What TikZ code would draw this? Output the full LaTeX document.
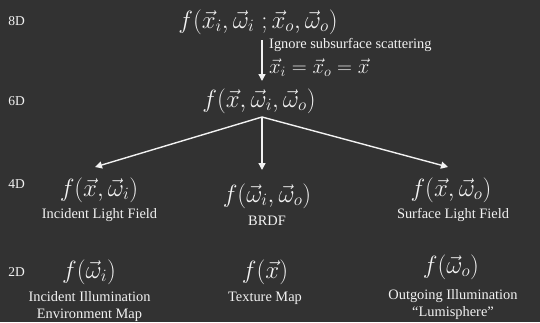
\documentclass[tikz,border=0pt]{standalone}
\usepackage{fontspec}
\setmainfont{Liberation Serif}
\usetikzlibrary{arrows.meta}
\definecolor{bg}{HTML}{323232}
\definecolor{fg}{HTML}{F2F2F2}
\begin{document}
\begin{tikzpicture}[x=1pt,y=-1pt,
  lbl/.style={text=fg,font=\fontsize{13.5}{16}\selectfont,inner sep=0pt},
  fm/.style={text=fg,font=\fontsize{24}{28}\selectfont,inner sep=0pt},
  capt/.style={text=fg,font=\fontsize{14.4}{17}\selectfont,inner sep=0pt,align=center},
  arr/.style={draw=fg,line width=1.4pt,-{Triangle[width=7pt,length=7pt]}}]
\fill[bg] (0,0) rectangle (540,322);
\useasboundingbox (0,0) rectangle (540,322);
% dimension labels
\node[lbl] (d8) at (16.5,21) {8D};
\node[lbl] (d6) at (16.5,101) {6D};
\node[lbl] (d4) at (16.5,184) {4D};
\node[lbl] (d2) at (16.5,272) {2D};
% formulas
\node[fm] (f8) at (258,22) {$f(\vec{x}_i,\vec{\omega}_i\;;\vec{x}_o,\vec{\omega}_o)$};
\node[fm] (f6) at (259,101) {$f(\vec{x},\vec{\omega}_i,\vec{\omega}_o)$};
\node[fm] (f4a) at (99,190) {$f(\vec{x},\vec{\omega}_i)$};
\node[fm] (f4b) at (267,196) {$f(\vec{\omega}_i,\vec{\omega}_o)$};
\node[fm] (f4c) at (451,190) {$f(\vec{x},\vec{\omega}_o)$};
\node[fm] (f2a) at (89,272) {$f(\vec{\omega}_i)$};
\node[fm] (f2b) at (265,272) {$f(\vec{x})$};
\node[fm] (f2c) at (451,267) {$f(\vec{\omega}_o)$};
% captions
\node[capt] (c4a) at (99.5,215) {Incident Light Field};
\node[capt] (c4b) at (267,221) {BRDF};
\node[capt] (c4c) at (453,215) {Surface Light Field};
\node[capt] (c2a) at (89.5,306.5) {Incident Illumination\\Environment Map};
\node[capt] (c2b) at (265,298) {Texture Map};
\node[capt] (c2c) at (453,304.5) {Outgoing Illumination\\``Lumisphere''};
% top arrow
\coordinate (a1) at (262,40);
\coordinate (a2) at (262,81);
\draw[arr] (a1) -- (a2);
\node[capt,anchor=west] (ign) at (269,45) {Ignore subsurface scattering};
\node[fm,anchor=west,font=\fontsize{21}{25}\selectfont] (eq) at (269,68) {$\vec{x}_i=\vec{x}_o=\vec{x}$};
% fan
\coordinate (br) at (262,117);
\coordinate (t1) at (95,167);
\coordinate (t2) at (262,170);
\coordinate (t3) at (448,167);
\draw[arr] (br) -- (t1);
\draw[arr] (br) -- (t2);
\draw[arr] (br) -- (t3);
\end{tikzpicture}
\end{document}
